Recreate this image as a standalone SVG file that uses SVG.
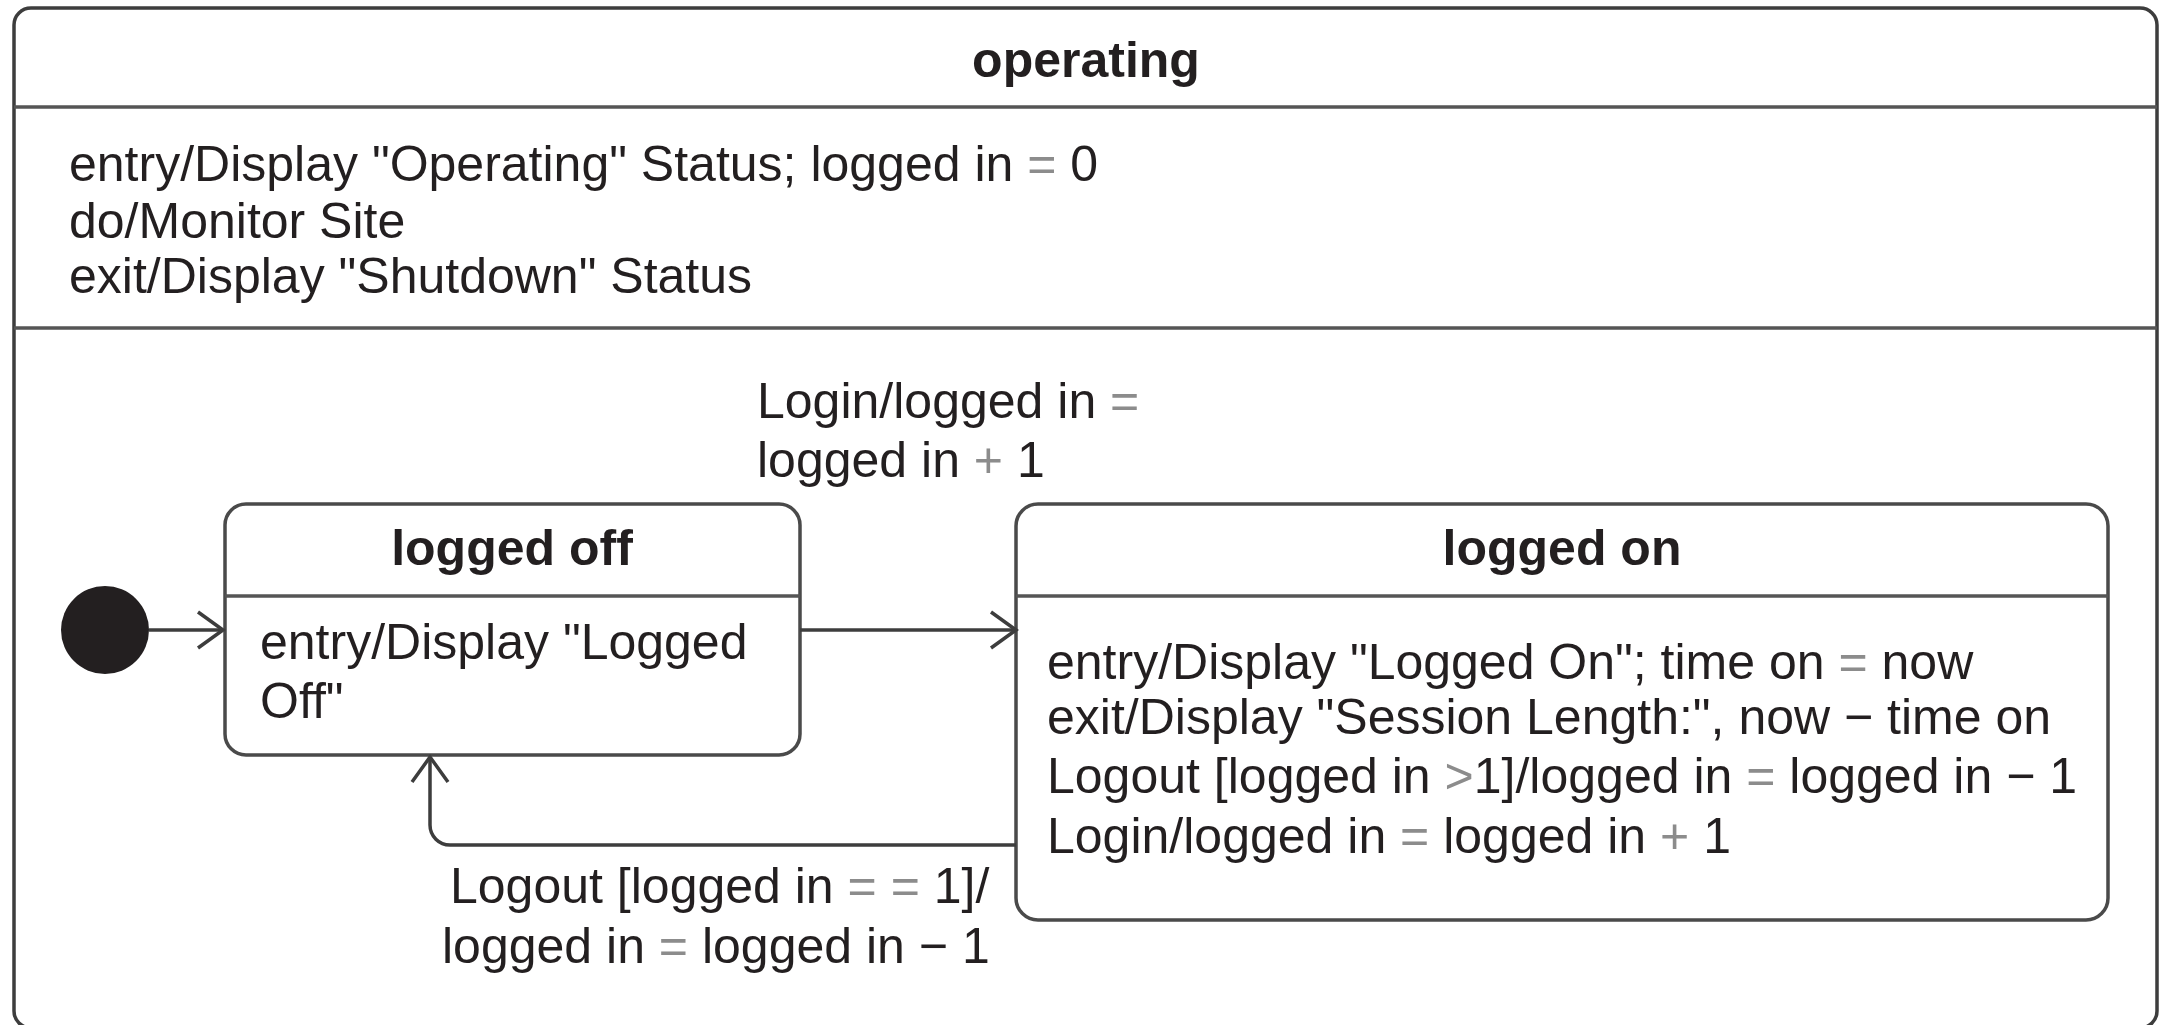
<svg xmlns="http://www.w3.org/2000/svg" width="2164" height="1025" viewBox="0 0 2164 1025">
  <style>
    .frame { fill: #ffffff; stroke: #3d3d3d; stroke-width: 3.5; }
    .rule { stroke: #555555; stroke-width: 3.5; fill: none; }
    .box { fill: #ffffff; stroke: #4a4a4a; stroke-width: 3.5; }
    .edge { fill: none; stroke: #3d3d3d; stroke-width: 3.5; }
    text { font-family: "Liberation Sans", Arial, sans-serif; font-size: 50px; fill: #231f20; }
    .title { font-weight: bold; text-anchor: middle; }
    .op { fill: #8c8c8c; }
  </style>
  <defs>
    <marker id="open-arrow" markerUnits="userSpaceOnUse" markerWidth="40" markerHeight="44" viewBox="-30 -22 34 44" refX="0" refY="0" orient="auto">
      <path d="M-25,-18 L0,0 L-25,18" fill="none" stroke="#3d3d3d" stroke-width="3.5"/>
    </marker>
  </defs>

  <!-- composite state: operating -->
  <g id="operating">
    <rect class="frame" x="14" y="8" width="2143" height="1020" rx="17"/>
    <line class="rule" x1="14" y1="107" x2="2157" y2="107"/>
    <line class="rule" x1="14" y1="328" x2="2157" y2="328"/>
    <text class="title" x="1086" y="77">operating</text>
    <text x="69" y="181">entry/Display "Operating" Status; logged in <tspan class="op">=</tspan> 0</text>
    <text x="69" y="238">do/Monitor Site</text>
    <text x="69" y="293">exit/Display "Shutdown" Status</text>
  </g>

  <!-- initial pseudo-state -->
  <g id="initial">
    <circle cx="105" cy="630" r="44" fill="#231f20"/>
  </g>

  <!-- state: logged off -->
  <g id="logged-off">
    <rect class="box" x="225" y="504" width="575" height="251" rx="21"/>
    <line class="rule" x1="225" y1="596" x2="800" y2="596"/>
    <text class="title" x="512" y="565">logged off</text>
    <text x="260" y="659">entry/Display "Logged</text>
    <text x="260" y="718">Off"</text>
  </g>

  <!-- state: logged on -->
  <g id="logged-on">
    <rect class="box" x="1016" y="504" width="1092" height="416" rx="22"/>
    <line class="rule" x1="1016" y1="596" x2="2108" y2="596"/>
    <text class="title" x="1562" y="565">logged on</text>
    <text x="1047" y="679">entry/Display "Logged On"; time on <tspan class="op">=</tspan> now</text>
    <text x="1047" y="734">exit/Display "Session Length:", now − time on</text>
    <text x="1047" y="793">Logout [logged in <tspan class="op">&gt;</tspan>1]/logged in <tspan class="op">=</tspan> logged in − 1</text>
    <text x="1047" y="853">Login/logged in <tspan class="op">=</tspan> logged in <tspan class="op">+</tspan> 1</text>
  </g>

  <!-- transitions -->
  <g id="connectors">
    <path class="edge" d="M149,630 H223" marker-end="url(#open-arrow)"/>
    <path class="edge" d="M800,630 H1016" marker-end="url(#open-arrow)"/>
    <path class="edge" d="M1016,845 H450 A20,20 0 0 1 430,825 V757" marker-end="url(#open-arrow)"/>
    <text x="757" y="418">Login/logged in <tspan class="op">=</tspan></text>
    <text x="757" y="477">logged in <tspan class="op">+</tspan> 1</text>
    <text x="450" y="903">Logout [logged in <tspan class="op">= =</tspan> 1]/</text>
    <text x="442" y="963">logged in <tspan class="op">=</tspan> logged in − 1</text>
  </g>
</svg>
